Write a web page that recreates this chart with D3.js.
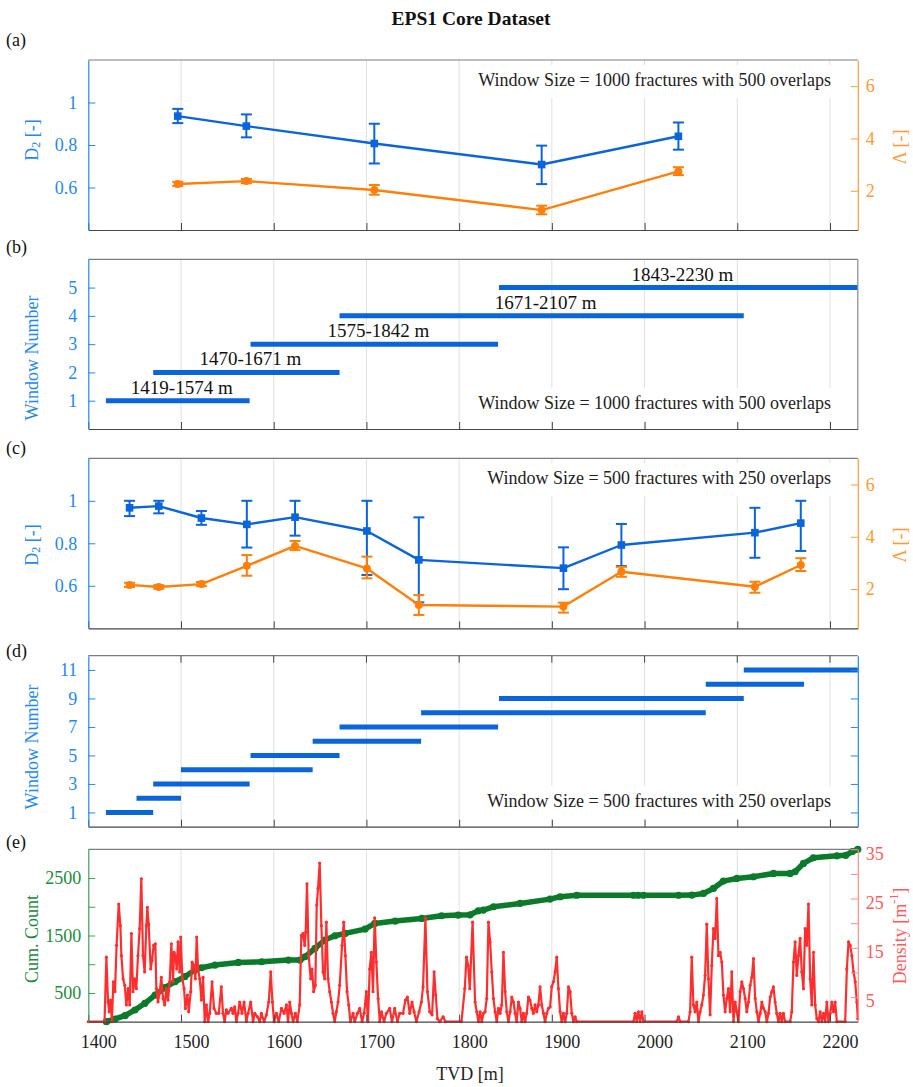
<!DOCTYPE html>
<html>
<head>
<meta charset="utf-8">
<script src="https://cdn.jsdelivr.net/npm/d3@7"></script>
<style>
  body { margin: 0; background: #fff; }
  svg { display: block; }
  text { font-family: "Liberation Serif", "Times New Roman", serif; }
</style>
</head>
<body>
<svg id="chart" width="913" height="1087"></svg>
<script>
// ---------------- data ----------------
const depthDomain = [1400, 2230];
const xTicks = [1400, 1500, 1600, 1700, 1800, 1900, 2000, 2100, 2200];
const gridTicks = [1500, 1600, 1700, 1800, 1900, 2000, 2100, 2200];

// 1000-fracture windows (500 overlap)
const bigWinStart = [1419, 1470, 1575, 1671, 1843];
const bigWinEnd   = [1574, 1671, 1842, 2107, 2230];
const d2Big    = [0.936, 0.889, 0.807, 0.708, 0.841];
const d2BigLo  = [0.903, 0.836, 0.713, 0.616, 0.778];
const d2BigHi  = [0.970, 0.944, 0.900, 0.797, 0.906];
const lamBig   = [2.26, 2.37, 2.03, 1.26, 2.74];
const lamBigLo = [2.18, 2.29, 1.85, 1.10, 2.60];
const lamBigHi = [2.34, 2.45, 2.22, 1.43, 2.90];

// 500-fracture windows (250 overlap)
const smallWinStart = [1419, 1452, 1470, 1500, 1575, 1642, 1671, 1759, 1843, 2066, 2107];
const smallWinEnd   = [1470, 1500, 1574, 1642, 1671, 1759, 1842, 2066, 2107, 2172, 2230];
const d2Small    = [0.967, 0.975, 0.919, 0.889, 0.923, 0.858, 0.722, 0.683, 0.792, 0.850, 0.895];
const d2SmallLo  = [0.928, 0.941, 0.887, 0.780, 0.836, 0.651, 0.522, 0.584, 0.693, 0.732, 0.764];
const d2SmallHi  = [1.000, 1.000, 0.952, 1.000, 1.000, 1.000, 0.922, 0.781, 0.891, 0.967, 1.000];
const lamSmall   = [2.16, 2.08, 2.19, 2.89, 3.65, 2.79, 1.39, 1.33, 2.66, 2.09, 2.92];
const lamSmallLo = [2.08, 2.01, 2.11, 2.51, 3.49, 2.41, 1.01, 1.10, 2.47, 1.86, 2.69];
const lamSmallHi = [2.24, 2.15, 2.27, 3.30, 3.84, 3.24, 1.77, 1.48, 2.85, 2.28, 3.18];

const d2Ticks = [0.6, 0.8, 1];
const lamTicks = [2, 4, 6];
const bigWinTicks = [1, 2, 3, 4, 5];
const smallWinTicks = [1, 3, 5, 7, 9, 11];
const cumTicks = [500, 1000, 1500, 2000, 2500];
const cumTickLabels = ["500", "", "1500", "", "2500"];
const densTicks = [5, 10, 15, 20, 25, 30, 35];
const densTickLabels = ["5", "", "15", "", "25", "", "35"];

// cumulative fracture count along depth
const cumDepth = [1419.5, 1428.8, 1439.6, 1450.3, 1461, 1472, 1482.7, 1493.5, 1504, 1515, 1522, 1536.6,
  1561.8, 1587, 1615.8, 1628.3, 1633.7, 1644.5, 1655, 1666, 1677, 1698.5, 1709, 1731, 1759.6, 1781,
  1799, 1811.8, 1820.7, 1826, 1837, 1865.7, 1898, 1908.9, 1926.9, 1988, 1993, 1998.8, 2036.6, 2051,
  2063.5, 2074.3, 2085, 2099.5, 2117.5, 2139, 2157, 2162.4, 2171.4, 2182, 2207.4, 2217, 2224, 2230];
const cumCount = [0, 47, 104, 204, 320, 464, 592, 696, 783, 899, 939, 986,
  1032, 1043, 1072, 1072, 1130, 1275, 1420, 1496, 1536, 1612, 1710, 1751, 1797, 1844,
  1855, 1860, 1930, 1942, 2000, 2058, 2133, 2174, 2200, 2200, 2200, 2200, 2200, 2203,
  2232, 2319, 2447, 2493, 2522, 2580, 2580, 2609, 2754, 2852, 2887, 2895, 2960, 3000];

// fracture density [1/m] along depth
const densDepth = [1400, 1417.5, 1419.5, 1421.3, 1422.5, 1424.0, 1425.5, 1427.0, 1428.8, 1430.5, 1432.8,
  1434.6, 1435.7, 1437.5, 1439.3, 1441.1, 1442.9, 1444.7, 1446.5, 1448.2, 1450.0, 1451.8, 1453.6, 1455.4,
  1457.2, 1459.0, 1460.8, 1462.6, 1463.7, 1465.1, 1467.3, 1468.7, 1470.5, 1472.3, 1473.4, 1475.2, 1477.0,
  1478.8, 1480.6, 1482.4, 1484.2, 1486.0, 1487.8, 1489.6, 1491.4, 1492.5, 1493.9, 1495.4, 1496.8, 1498.6,
  1499.7, 1501.5, 1503.3, 1504.7, 1506.9, 1508.3, 1510.5, 1511.9, 1514.1, 1515.5, 1516.9, 1518.4, 1520.2,
  1522.0, 1523.8, 1525.6, 1527.4, 1529.2, 1531.0, 1533.5, 1535.6, 1538.1, 1540.7, 1543.5, 1545.3, 1547.1,
  1548.9, 1550.7, 1554.3, 1556.1, 1557.9, 1559.7, 1561.5, 1563.3, 1565.8, 1568.0, 1570.5, 1572.3, 1575.2,
  1577.7, 1579.5, 1582.4, 1584.9, 1586.7, 1589.6, 1592.1, 1594.6, 1596.8, 1598.6, 1600.4, 1602.9, 1605.4,
  1608.3, 1611.2, 1613.7, 1615.5, 1617.3, 1619.1, 1620.9, 1623.4, 1625.5, 1628.0, 1629.8, 1631.6, 1633.4,
  1634.5, 1635.9, 1637.7, 1639.9, 1641.3, 1643.1, 1644.9, 1646.4, 1647.8, 1649.6, 1651.4, 1653.2, 1655.0,
  1656.8, 1658.6, 1660.4, 1662.2, 1664.0, 1665.8, 1667.6, 1669.4, 1671.2, 1673.7, 1675.5, 1677.3, 1679.1,
  1680.9, 1682.7, 1685.6, 1687.4, 1690.3, 1692.8, 1695.3, 1697.5, 1699.9, 1701.7, 1703.5, 1705.3, 1707.1,
  1708.9, 1710.7, 1712.6, 1714.4, 1716.2, 1719.0, 1721.5, 1725.1, 1727.6, 1730.5, 1733.4, 1735.9, 1739.5,
  1742.0, 1744.2, 1746.7, 1749.2, 1751.4, 1753.9, 1756.8, 1759.3, 1761.1, 1763.6, 1765.8, 1768.3, 1770.8,
  1773.0, 1774.8, 1776.6, 1779.1, 1782.7, 1785.2, 1802.5, 1806.1, 1807.9, 1809.7, 1811.5, 1814.5, 1817.2,
  1819.0, 1820.8, 1822.6, 1824.4, 1826.2, 1828.0, 1829.8, 1831.6, 1833.4, 1835.2, 1837.0, 1838.8, 1840.6,
  1842.4, 1844.2, 1846.0, 1847.8, 1849.6, 1851.4, 1853.2, 1855.0, 1856.8, 1858.6, 1860.4, 1862.1, 1863.9,
  1865.7, 1867.5, 1869.3, 1871.1, 1872.9, 1874.7, 1876.5, 1878.3, 1880.1, 1881.9, 1883.7, 1885.5, 1887.3,
  1889.1, 1890.9, 1892.7, 1894.5, 1896.3, 1898.1, 1899.9, 1901.7, 1903.5, 1905.3, 1907.1, 1908.9, 1910.7,
  1912.5, 1914.3, 1916.1, 1917.9, 1919.7, 1921.5, 1923.3, 1925.1, 1926.9, 1988.0, 1989.8, 1991.6, 1993.4,
  1995.2, 1997.0, 1998.8, 2034.8, 2036.6, 2038.4, 2047.3, 2049.1, 2050.9, 2052.7, 2054.5, 2056.3, 2058.1,
  2059.9, 2061.7, 2063.5, 2065.3, 2067.1, 2068.9, 2070.7, 2072.5, 2074.3, 2076.1, 2077.9, 2079.7, 2081.5,
  2083.3, 2085.1, 2086.9, 2088.7, 2090.5, 2092.3, 2094.1, 2095.9, 2097.7, 2099.5, 2101.3, 2103.1, 2104.9,
  2106.7, 2108.5, 2110.3, 2112.1, 2113.9, 2115.7, 2117.5, 2119.3, 2121.1, 2122.9, 2124.7, 2126.5, 2128.3,
  2130.1, 2131.9, 2133.7, 2135.5, 2137.3, 2139.0, 2140.8, 2142.6, 2144.4, 2146.2, 2148.0, 2149.8, 2151.6,
  2157.0, 2158.8, 2160.6, 2162.4, 2164.2, 2166.0, 2167.8, 2169.6, 2171.4, 2173.2, 2175.0, 2176.8, 2178.6,
  2180.4, 2182.2, 2184.0, 2185.8, 2187.6, 2189.4, 2191.2, 2193.0, 2194.8, 2196.6, 2198.4, 2200.2, 2202.0,
  2203.8, 2205.6, 2207.4, 2216.4, 2218.2, 2220.0, 2221.8, 2223.6, 2225.4, 2227.2, 2229.0, 2230];
const densVal = [0, 0, 13.1, 4.0, 2.0, 4.4, 0, 8.1, 6.1, 15.5, 23.9,
  19.5, 13.4, 8.7, 7.4, 3.4, 6.7, 3.4, 17.9, 6.1, 8.7, 6.7, 13.4, 18.9,
  29.0, 13.4, 10.1, 19.5, 23.2, 19.8, 10.7, 12.4, 15.5, 15.8, 6.7, 4.0, 6.1,
  9.0, 4.7, 3.4, 6.7, 4.4, 8.1, 15.8, 8.1, 14.1, 13.4, 10.7, 16.2, 10.1,
  17.2, 8.7, 6.7, 2.7, 5.4, 2.0, 6.1, 12.1, 11.4, 8.7, 17.2, 10.7, 8.7,
  4.4, 9.0, 0, 3.4, 0, 1.7, 8.1, 2.7, 1.7, 1.7, 7.1, 1.7, 0,
  2.4, 1.7, 2.7, 1.7, 3.0, 0, 1.7, 4.0, 1.7, 4.0, 0, 1.7, 4.0,
  0, 1.7, 1.0, 0, 1.7, 0, 1.4, 4.0, 10.1, 4.0, 0, 1.7, 0,
  2.7, 1.7, 3.4, 0, 4.0, 1.7, 0, 1.7, 0, 3.4, 17.5, 17.9, 15.5,
  18.2, 28.0, 13.4, 8.7, 10.7, 6.1, 7.4, 23.7, 27.1, 32.2, 19.5, 10.1, 8.7,
  20.2, 8.7, 6.1, 4.0, 1.7, 0, 2.0, 4.0, 7.4, 15.5, 20.2, 13.4, 6.1,
  3.4, 0, 1.7, 0, 1.7, 2.7, 0, 1.7, 6.1, 0, 10.7, 14.1, 6.1,
  21.1, 12.1, 4.7, 0, 2.0, 0, 1.7, 2.7, 0, 2.7, 0, 1.7, 1.7,
  4.4, 5.0, 1.7, 4.0, 2.0, 0, 2.0, 4.0, 7.1, 21.1, 6.1, 2.0, 1.4,
  10.1, 5.4, 0.6, 0, 1.0, 0, 0, 6.7, 13.1, 11.4, 6.7, 20.2, 4.0,
  2.0, 0, 2.0, 0, 1.7, 2.0, 4.7, 20.2, 16.2, 10.1, 4.7, 2.0, 0,
  2.7, 1.7, 3.4, 14.1, 6.1, 2.0, 0, 2.0, 5.0, 4.0, 1.7, 0, 4.0,
  2.7, 0, 1.7, 0, 1.7, 5.0, 4.4, 2.7, 1.7, 3.4, 2.0, 3.4, 7.1,
  3.4, 1.7, 0, 1.7, 2.7, 3.0, 7.1, 8.1, 10.1, 13.1, 6.7, 2.0, 0,
  1.7, 0, 1.7, 7.1, 6.1, 1.7, 0, 1.0, 0, 0, 1.7, 0, 2.0,
  0, 2.0, 0, 0, 1.0, 0, 0, 2.0, 13.1, 3.4, 2.0, 4.0, 0,
  2.0, 3.4, 5.4, 9.4, 19.8, 8.7, 1.4, 11.4, 18.9, 16.9, 25.0, 13.4, 14.1,
  12.1, 5.4, 2.0, 4.7, 6.7, 2.0, 10.1, 0, 4.0, 2.0, 0, 6.1, 8.1,
  6.7, 4.7, 2.0, 4.0, 7.4, 9.0, 12.8, 4.7, 2.0, 0, 1.7, 4.0, 2.7,
  2.0, 0, 1.7, 5.0, 6.1, 7.1, 4.0, 1.7, 0, 1.7, 0, 1.7, 0,
  0, 2.0, 12.1, 16.2, 9.4, 13.4, 16.9, 10.1, 6.7, 18.9, 15.5, 23.9, 8.7,
  3.4, 14.1, 3.4, 0.6, 0, 2.0, 0, 1.7, 0, 4.0, 0, 1.7, 4.0,
  2.0, 4.0, 0, 0, 10.7, 16.2, 15.5, 13.4, 10.1, 8.1, 4.0, 0.6];

const bigNote = "Window Size = 1000 fractures with 500 overlaps";
const smallNote = "Window Size = 500 fractures with 250 overlaps";

// ---------------- layout & styles ----------------
const svg = d3.select("#chart");
const FONT = '"Liberation Serif", "Times New Roman", serif';
const X0 = 88.3, X1 = 857.8;
const x = d3.scaleLinear().domain(depthDomain).range([X0, X1]);

const panels = {
  a: { top: 60,    bottom: 230 },
  b: { top: 259.3, bottom: 429 },
  c: { top: 458.3, bottom: 628.3 },
  d: { top: 655.7, bottom: 826.7 },
  e: { top: 849.3, bottom: 1021.7 }
};

const BLUE = "#0a64dc", BLUE_AX = "#1e88f5";
const ORANGE = "#ff7f0a", ORANGE_AX = "#ff9a33";
const GREEN = "#0b7a2b", GREEN_AX = "#1a8c3e";
const RED = "#ff2e2e", RED_AX = "#ff5a5a";
const RIGHT_LABEL_X = 900;

// title
svg.append("text").attr("x", 471).attr("y", 25).attr("text-anchor", "middle")
  .attr("font-size", 19.5).attr("font-weight", "bold").attr("fill", "#111").text("EPS1 Core Dataset");

// panel letters
[["(a)", 46], ["(b)", 253], ["(c)", 454], ["(d)", 657], ["(e)", 848]].forEach(([t, y]) => {
  svg.append("text").attr("x", 6).attr("y", y).attr("font-size", 18).attr("fill", "#111").text(t);
});

function grid(p) {
  svg.append("g").selectAll("line").data(gridTicks).join("line")
    .attr("x1", d => x(d)).attr("x2", d => x(d))
    .attr("y1", p.top).attr("y2", p.bottom)
    .attr("stroke", "#e0e0e0").attr("stroke-width", 1);
}

function note(text, baseline) {
  const g = svg.append("g");
  const t = g.append("text").attr("x", x(2200) + 1).attr("y", baseline)
    .attr("text-anchor", "end").attr("font-size", 18).attr("fill", "#222").text(text);
  const bb = t.node().getBBox();
  g.insert("rect", "text").attr("x", bb.x - 5).attr("width", bb.width + 10)
    .attr("y", baseline - 21).attr("height", 33).attr("fill", "#fff");
}

function styleAxis(g, lineColor, textColor) {
  g.select(".domain").attr("stroke", lineColor).attr("stroke-width", 1.2);
  g.selectAll(".tick line").attr("stroke", lineColor).attr("stroke-width", 1);
  g.selectAll(".tick text").attr("font-family", FONT).attr("font-size", 18).attr("fill", textColor);
}

function frame(p, opts) {
  // top border
  svg.append("line").attr("x1", X0).attr("x2", X1).attr("y1", p.top).attr("y2", p.top)
    .attr("stroke", "#7d7d7d").attr("stroke-width", 1.2);
  if (opts.topTicks) {
    svg.append("g").selectAll("line").data(gridTicks).join("line")
      .attr("x1", d => x(d)).attr("x2", d => x(d)).attr("y1", p.top).attr("y2", p.top + 7)
      .attr("stroke", "#444");
  }
  // bottom axis
  const bx = d3.axisBottom(x).tickValues(xTicks).tickSizeInner(-7).tickSizeOuter(0).tickPadding(14)
    .tickFormat(opts.xLabels ? d3.format("d") : () => "");
  const gb = svg.append("g").attr("transform", `translate(0,${p.bottom})`).call(bx);
  styleAxis(gb, "#454545", "#222");
  if (opts.xLabels) gb.selectAll(".tick text").attr("dx", 10);
  // left axis
  const lx = d3.axisLeft(opts.yLeft).tickValues(opts.leftTicks).tickSizeInner(-7).tickSizeOuter(0)
    .tickPadding(opts.leftPad || 11).tickFormat(opts.leftFormat || (d => d));
  const gl = svg.append("g").attr("transform", `translate(${X0},0)`).call(lx);
  styleAxis(gl, opts.leftLine, opts.leftText);
  // right axis
  if (opts.yRight) {
    const rx = d3.axisRight(opts.yRight).tickValues(opts.rightTicks).tickSizeInner(-7).tickSizeOuter(0)
      .tickPadding(8).tickFormat(opts.rightFormat || (d => d));
    const gr = svg.append("g").attr("transform", `translate(${X1},0)`).call(rx);
    styleAxis(gr, opts.rightLine, opts.rightText);
    if (opts.rightDy) gr.selectAll(".tick text").attr("dy", opts.rightDy);
  } else {
    svg.append("line").attr("x1", X1).attr("x2", X1).attr("y1", p.top).attr("y2", p.bottom)
      .attr("stroke", opts.rightLine).attr("stroke-width", 1.2);
  }
}

function vLabel(xc, yc, color, build) {
  const t = svg.append("text").attr("transform", `translate(${xc},${yc}) rotate(-90)`)
    .attr("text-anchor", "middle").attr("dominant-baseline", "central")
    .attr("font-size", 18).attr("fill", color);
  build(t);
}

function d2Label(yc) {
  vLabel(32, yc, BLUE_AX, t => {
    t.append("tspan").text("D");
    t.append("tspan").attr("font-size", 12).attr("dy", 4).text("2");
    t.append("tspan").attr("dy", -4).text(" [-]");
  });
}
function lamLabel(yc) {
  vLabel(RIGHT_LABEL_X, yc, ORANGE_AX, t => t.text("Λ [-]"));
}

function errorSeries(yScale, xs, vals, lo, hi, color, shape) {
  const pts = xs.map((d, i) => ({ x: d, v: vals[i], lo: lo[i], hi: hi[i] }));
  const g = svg.append("g");
  g.append("path").datum(pts).attr("fill", "none").attr("stroke", color).attr("stroke-width", 2.4)
    .attr("stroke-linejoin", "round")
    .attr("d", d3.line().x(d => x(d.x)).y(d => yScale(d.v)));
  const eb = g.selectAll(null).data(pts).join("g").attr("stroke", color).attr("stroke-width", 2);
  eb.append("line").attr("x1", d => x(d.x)).attr("x2", d => x(d.x))
    .attr("y1", d => yScale(d.lo)).attr("y2", d => yScale(d.hi));
  eb.append("line").attr("x1", d => x(d.x) - 5.5).attr("x2", d => x(d.x) + 5.5)
    .attr("y1", d => yScale(d.lo)).attr("y2", d => yScale(d.lo));
  eb.append("line").attr("x1", d => x(d.x) - 5.5).attr("x2", d => x(d.x) + 5.5)
    .attr("y1", d => yScale(d.hi)).attr("y2", d => yScale(d.hi));
  if (shape === "square") {
    g.selectAll(null).data(pts).join("rect")
      .attr("x", d => x(d.x) - 3.8).attr("y", d => yScale(d.v) - 3.8)
      .attr("width", 7.6).attr("height", 7.6).attr("fill", color);
  } else {
    g.selectAll(null).data(pts).join("circle")
      .attr("cx", d => x(d.x)).attr("cy", d => yScale(d.v)).attr("r", 4).attr("fill", color);
  }
}

const mid = (s, e) => s.map((d, i) => (d + e[i]) / 2);

// ---------------- (a) & (c): D2 and Lambda ----------------
function fractalPanel(p, starts, ends, d2, d2Lo, d2Hi, lam, lamLo, lamHi, noteText) {
  const yL = d3.scaleLinear().domain([0.4, 1.2]).range([p.bottom, p.top]);
  const yR = d3.scaleLinear().domain([0.5, 7]).range([p.bottom, p.top]);
  grid(p);
  note(noteText, p.top + 26);
  const xs = mid(starts, ends);
  errorSeries(yL, xs, d2, d2Lo, d2Hi, BLUE, "square");
  errorSeries(yR, xs, lam, lamLo, lamHi, ORANGE, "circle");
  frame(p, {
    yLeft: yL, leftTicks: d2Ticks, leftLine: BLUE_AX, leftText: BLUE_AX,
    yRight: yR, rightTicks: lamTicks, rightLine: ORANGE_AX, rightText: ORANGE_AX
  });
}

fractalPanel(panels.a, bigWinStart, bigWinEnd, d2Big, d2BigLo, d2BigHi, lamBig, lamBigLo, lamBigHi, bigNote);
d2Label(140); lamLabel(147);

fractalPanel(panels.c, smallWinStart, smallWinEnd, d2Small, d2SmallLo, d2SmallHi,
  lamSmall, lamSmallLo, lamSmallHi, smallNote);
d2Label(545); lamLabel(545);

// ---------------- (b) & (d): window extents ----------------
function windowPanel(p, starts, ends, maxY, ticks, noteText, withLabels, opts) {
  const y = d3.scaleLinear().domain([0, maxY]).range([p.bottom, p.top]);
  grid(p);
  note(noteText, p.bottom - 20);
  const wins = starts.map((s, i) => ({ s, e: ends[i], n: i + 1 }));
  svg.append("g").selectAll("line").data(wins).join("line")
    .attr("x1", d => x(d.s)).attr("x2", d => x(d.e))
    .attr("y1", d => y(d.n)).attr("y2", d => y(d.n))
    .attr("stroke", BLUE).attr("stroke-width", 5);
  if (withLabels) {
    svg.append("g").selectAll("text").data(wins).join("text")
      .attr("x", d => x((d.s + d.e) / 2) + 4).attr("y", d => y(d.n + 0.48))
      .attr("text-anchor", "middle").attr("dominant-baseline", "central")
      .attr("font-size", 19).attr("fill", "#111")
      .text(d => `${d.s}-${d.e} m`);
  }
  frame(p, Object.assign({ yLeft: y, leftTicks: ticks, leftLine: BLUE_AX, leftText: BLUE_AX }, opts(y)));
}

windowPanel(panels.b, bigWinStart, bigWinEnd, 6, bigWinTicks, bigNote, true,
  () => ({ rightLine: "#8a8a8a" }));
vLabel(32, 358, BLUE_AX, t => t.text("Window Number"));

windowPanel(panels.d, smallWinStart, smallWinEnd, 12, smallWinTicks, smallNote, false,
  y => ({ topTicks: true, yRight: y, rightTicks: smallWinTicks, rightFormat: () => "",
          rightLine: BLUE_AX, rightText: BLUE_AX }));
vLabel(32, 747, BLUE_AX, t => t.text("Window Number"));

// ---------------- (e): cumulative count and density ----------------
(function () {
  const p = panels.e;
  const yC = d3.scaleLinear().domain([0, 3000]).range([p.bottom, p.top]);
  const yD = d3.scaleLinear().domain([0, 35]).range([p.bottom, p.top]);
  grid(p);

  const cum = cumDepth.map((d, i) => ({ x: d, v: cumCount[i] }));
  const gC = svg.append("g");
  gC.append("path").datum(cum).attr("fill", "none").attr("stroke", GREEN).attr("stroke-width", 5.5)
    .attr("stroke-linejoin", "round").attr("stroke-linecap", "round")
    .attr("d", d3.line().x(d => x(d.x)).y(d => yC(d.v)));
  gC.selectAll("circle").data(cum).join("circle")
    .attr("cx", d => x(d.x)).attr("cy", d => yC(d.v)).attr("r", 3.6).attr("fill", GREEN);

  const dens = densDepth.map((d, i) => ({ x: d, v: densVal[i] }));
  const gD = svg.append("g");
  gD.append("path").datum(dens).attr("fill", "none").attr("stroke", RED).attr("stroke-width", 2.2)
    .attr("stroke-linejoin", "round")
    .attr("d", d3.line().x(d => x(d.x)).y(d => yD(d.v)));
  gD.selectAll("circle").data(dens).join("circle")
    .attr("cx", d => x(d.x)).attr("cy", d => yD(d.v)).attr("r", 1.6).attr("fill", RED);

  frame(p, {
    xLabels: true,
    yLeft: yC, leftTicks: cumTicks, leftPad: 7,
    leftFormat: d => cumTickLabels[cumTicks.indexOf(d)],
    leftLine: "#3aa05a", leftText: GREEN_AX,
    yRight: yD, rightTicks: densTicks, rightFormat: d => densTickLabels[densTicks.indexOf(d)],
    rightLine: "#ff8a8a", rightText: RED_AX, rightDy: "0.55em"
  });

  vLabel(32, 939, GREEN_AX, t => t.text("Cum. Count"));
  vLabel(RIGHT_LABEL_X, 936, RED_AX, t => {
    t.append("tspan").text("Density [m");
    t.append("tspan").attr("font-size", 12).attr("dy", -6).text("-1");
    t.append("tspan").attr("dy", 6).text("]");
  });
  svg.append("text").attr("x", 470).attr("y", 1080).attr("text-anchor", "middle")
    .attr("font-size", 18).attr("fill", "#222").text("TVD [m]");
})();
</script>
</body>
</html>
